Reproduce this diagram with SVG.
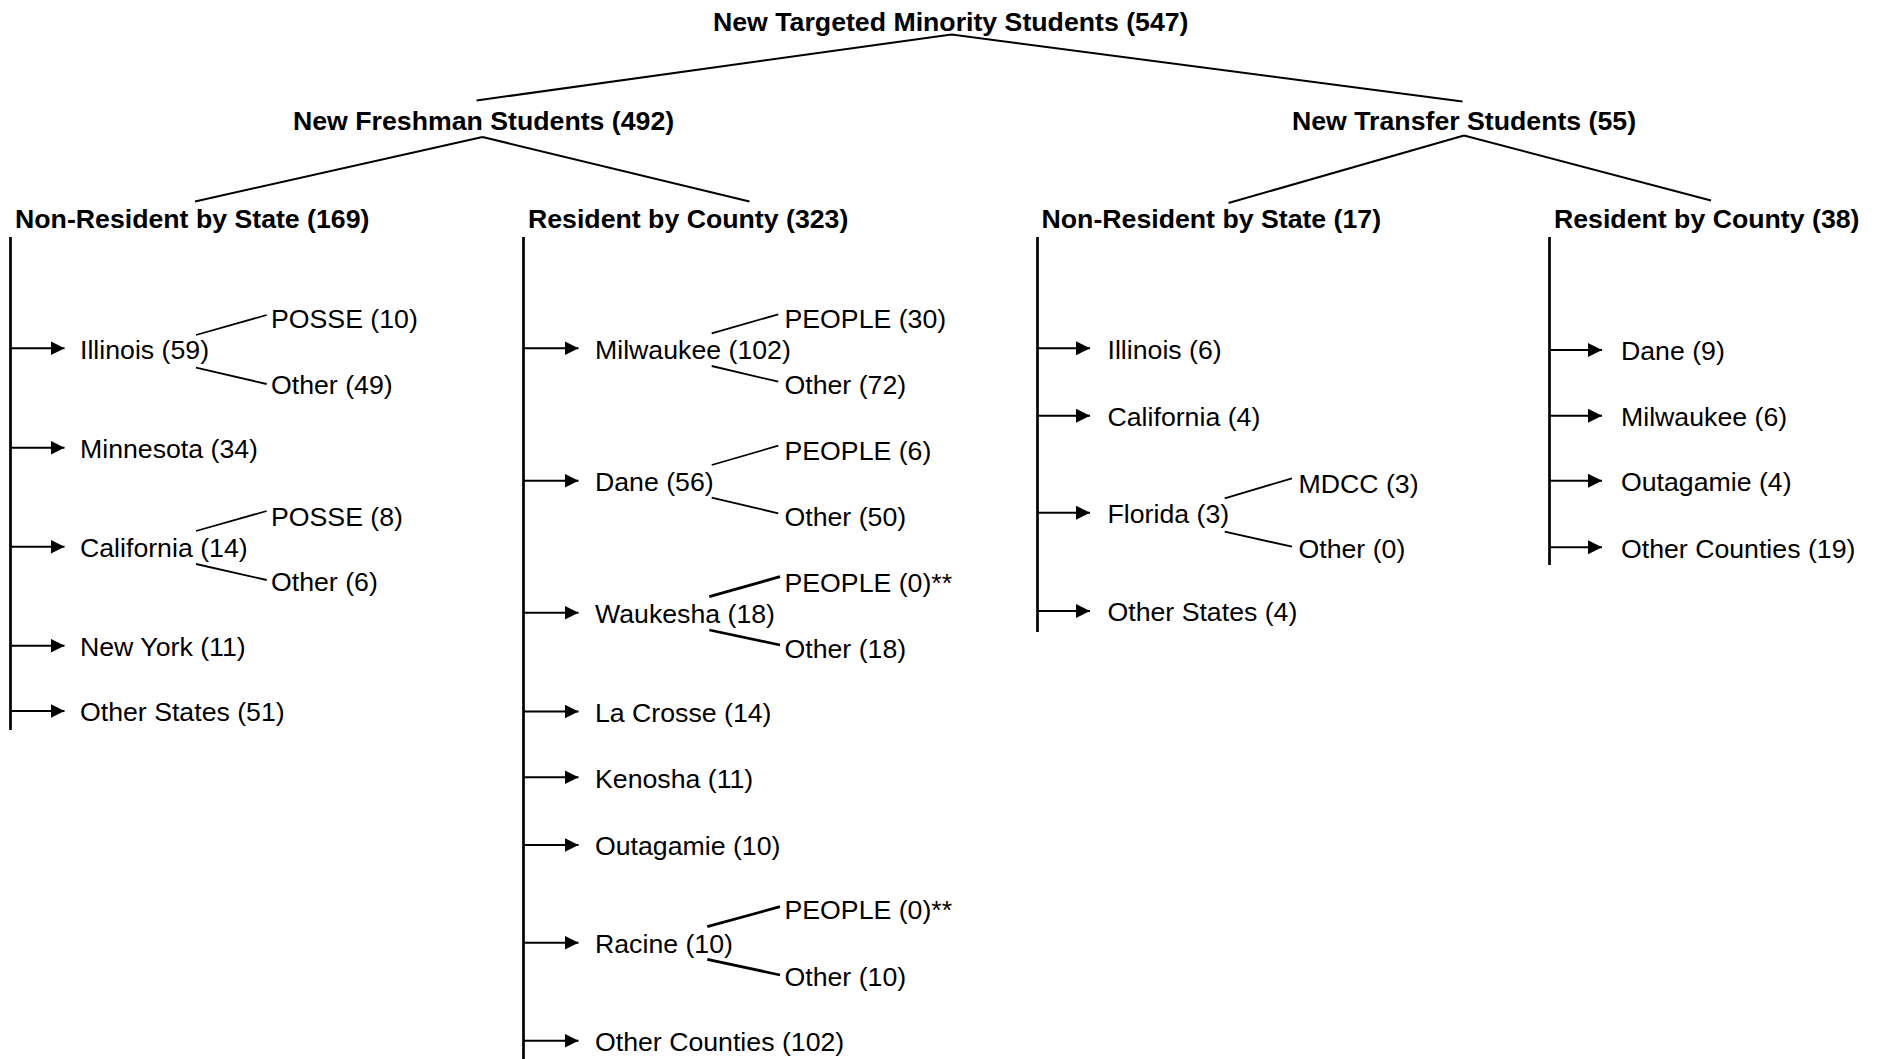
<svg xmlns="http://www.w3.org/2000/svg" width="1881" height="1059" viewBox="0 0 1881 1059">
<style>
text{font-family:"Liberation Sans",Arial,sans-serif;font-size:26.7px;fill:#000}
.b{font-weight:bold}
.c{stroke:#000;stroke-width:2;fill:none}
.v{stroke:#000;stroke-width:2.7;fill:none}
.a line{stroke:#000;stroke-width:2;marker-end:url(#ah)}
.s{stroke:#000;stroke-width:1.8;fill:none}
.t{stroke:#000;stroke-width:2.8;fill:none}
</style>
<defs>
<marker id="ah" markerUnits="userSpaceOnUse" markerWidth="15" markerHeight="14" refX="14" refY="7" orient="auto"><path d="M0,0 L14,7 L0,14 z" fill="#000"/></marker>
</defs>
<rect width="1881" height="1059" fill="#fff"/>
<g id="connectors">
<path class="c" d="M951.5,34.5 L476.5,100.5 M951.5,34.5 L1462.5,101.5"/>
<path class="c" d="M482.5,137 L195,201.5 M482.5,137 L749.5,201.5"/>
<path class="c" d="M1464,135.5 L1228.5,203 M1464,135.5 L1711,200.5"/>
<path class="v" d="M10.5,237 V730 M523.5,237 V1059 M1037.5,237 V632 M1549.5,237 V565"/>
<g class="a">
<line x1="10.5" y1="348.3" x2="64.5" y2="348.3"/>
<line x1="10.5" y1="447.7" x2="64.5" y2="447.7"/>
<line x1="10.5" y1="546.7" x2="64.5" y2="546.7"/>
<line x1="10.5" y1="645.7" x2="64.5" y2="645.7"/>
<line x1="10.5" y1="711" x2="64.5" y2="711"/>
<line x1="523.5" y1="348.3" x2="578.5" y2="348.3"/>
<line x1="523.5" y1="480.7" x2="578.5" y2="480.7"/>
<line x1="523.5" y1="612.7" x2="578.5" y2="612.7"/>
<line x1="523.5" y1="711.5" x2="578.5" y2="711.5"/>
<line x1="523.5" y1="777.3" x2="578.5" y2="777.3"/>
<line x1="523.5" y1="845" x2="578.5" y2="845"/>
<line x1="523.5" y1="942.7" x2="578.5" y2="942.7"/>
<line x1="523.5" y1="1040.7" x2="578.5" y2="1040.7"/>
<line x1="1037.5" y1="348.3" x2="1090" y2="348.3"/>
<line x1="1037.5" y1="415.7" x2="1090" y2="415.7"/>
<line x1="1037.5" y1="512.7" x2="1090" y2="512.7"/>
<line x1="1037.5" y1="611" x2="1090" y2="611"/>
<line x1="1549.5" y1="350" x2="1602" y2="350"/>
<line x1="1549.5" y1="415.7" x2="1602" y2="415.7"/>
<line x1="1549.5" y1="480.7" x2="1602" y2="480.7"/>
<line x1="1549.5" y1="547.3" x2="1602" y2="547.3"/>
</g>
<path class="s" d="M196,335 L266.7,315 M196,367.7 L266.7,384 M196,531 L266.7,511 M196,564 L266.7,580"/>
<path class="s" d="M711.7,333.3 L778.3,314.3 M711.7,366 L778.3,381.7 M711.7,465 L778.3,445.7 M711.7,497.7 L778.3,513.3"/>
<path class="t" d="M709.3,596.7 L780,576.7 M709.3,630 L780,645 M707.3,926.7 L780,906.7 M707.3,959.3 L780,975"/>
<path class="s" d="M1224.7,498.3 L1292,478.3 M1224.7,531.7 L1292,546.7"/>
</g>
<g id="n-root"><text class="b" x="713" y="30.5">New Targeted Minority Students (547)</text></g>
<g id="n-freshman"><text class="b" x="293" y="130">New Freshman Students (492)</text></g>
<g id="n-transfer"><text class="b" x="1292" y="130">New Transfer Students (55)</text></g>
<g id="n-f-nonres"><text class="b" x="15" y="228.3">Non-Resident by State (169)</text></g>
<g id="n-f-res"><text class="b" x="528" y="228.3">Resident by County (323)</text></g>
<g id="n-t-nonres"><text class="b" x="1041.5" y="228.3">Non-Resident by State (17)</text></g>
<g id="n-t-res"><text class="b" x="1554" y="228.3">Resident by County (38)</text></g>
<g id="n-f-illinois"><text x="80" y="358.7">Illinois (59)</text></g>
<g id="n-f-illinois-posse"><text x="271" y="327.7">POSSE (10)</text></g>
<g id="n-f-illinois-other"><text x="271" y="393.7">Other (49)</text></g>
<g id="n-f-minnesota"><text x="80" y="458.1">Minnesota (34)</text></g>
<g id="n-f-california"><text x="80" y="557.1">California (14)</text></g>
<g id="n-f-california-posse"><text x="271" y="526">POSSE (8)</text></g>
<g id="n-f-california-other"><text x="271" y="591">Other (6)</text></g>
<g id="n-f-newyork"><text x="80" y="656.1">New York (11)</text></g>
<g id="n-f-otherstates"><text x="80" y="721.4">Other States (51)</text></g>
<g id="n-f-milwaukee"><text x="595" y="358.7">Milwaukee (102)</text></g>
<g id="n-f-milwaukee-people"><text x="784.5" y="327.7">PEOPLE (30)</text></g>
<g id="n-f-milwaukee-other"><text x="784.5" y="393.7">Other (72)</text></g>
<g id="n-f-dane"><text x="595" y="491.1">Dane (56)</text></g>
<g id="n-f-dane-people"><text x="784.5" y="460.3">PEOPLE (6)</text></g>
<g id="n-f-dane-other"><text x="784.5" y="526">Other (50)</text></g>
<g id="n-f-waukesha"><text x="595" y="623.1">Waukesha (18)</text></g>
<g id="n-f-waukesha-people"><text x="784.5" y="592">PEOPLE (0)**</text></g>
<g id="n-f-waukesha-other"><text x="784.5" y="657.7">Other (18)</text></g>
<g id="n-f-lacrosse"><text x="595" y="721.9">La Crosse (14)</text></g>
<g id="n-f-kenosha"><text x="595" y="787.7">Kenosha (11)</text></g>
<g id="n-f-outagamie"><text x="595" y="855.4">Outagamie (10)</text></g>
<g id="n-f-racine"><text x="595" y="953.1">Racine (10)</text></g>
<g id="n-f-racine-people"><text x="784.5" y="919.3">PEOPLE (0)**</text></g>
<g id="n-f-racine-other"><text x="784.5" y="986">Other (10)</text></g>
<g id="n-f-othercounties"><text x="595" y="1051.1">Other Counties (102)</text></g>
<g id="n-t-illinois"><text x="1107.5" y="358.7">Illinois (6)</text></g>
<g id="n-t-california"><text x="1107.5" y="426.1">California (4)</text></g>
<g id="n-t-florida"><text x="1107.5" y="523.1">Florida (3)</text></g>
<g id="n-t-florida-mdcc"><text x="1298.5" y="492.7">MDCC (3)</text></g>
<g id="n-t-florida-other"><text x="1298.5" y="557.7">Other (0)</text></g>
<g id="n-t-otherstates"><text x="1107.5" y="621.4">Other States (4)</text></g>
<g id="n-t-dane"><text x="1621" y="360.4">Dane (9)</text></g>
<g id="n-t-milwaukee"><text x="1621" y="426.1">Milwaukee (6)</text></g>
<g id="n-t-outagamie"><text x="1621" y="491.1">Outagamie (4)</text></g>
<g id="n-t-othercounties"><text x="1621" y="557.7">Other Counties (19)</text></g>
</svg>
